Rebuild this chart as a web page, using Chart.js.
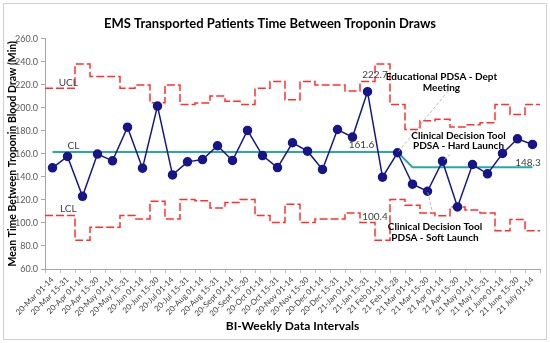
<!DOCTYPE html>
<html>
<head>
<meta charset="utf-8">
<script src="https://cdn.jsdelivr.net/npm/chart.js@4.4.0/dist/chart.umd.min.js"></script>
<style>
  html, body { margin: 0; padding: 0; background: #fff; }
  #wrap { width: 550px; height: 343px; position: relative; }
</style>
</head>
<body>
<div id="wrap"><canvas id="myChart"></canvas></div>
<script>
// bi-weekly intervals
const periods = ['20-Mar 01-14', '20-Mar 15-31', '20-Apr 01-14', '20-Apr 15-30', '20-May 01-14', '20-May 15-31',
  '20-Jun 01-14', '20-Jun 15-30', '20-Jul 01-14', '20-Jul 15-31', '20-Aug 01-14', '20-Aug 15-31',
  '20-Sept 01-14', '20-Sept 15-30', '20-Oct 01-14', '20-Oct 15-31', '20-Nov 01-14', '20-Nov 15-30',
  '20-Dec 01-14', '20-Dec 15-31', '21-Jan 01-14', '21-Jan 15-31', '21 Feb 01-14', '21 Feb 15-28',
  '21 Mar 01-14', '21 Mar 15-30', '21 Apr 01-14', '21 Apr 15-30', '21 May 01-14', '21 May 15-31',
  '21 June 01-14', '21 June 15-30', '21 July 01-14'];

const meanTime = [147.8, 157.7, 123.1, 159.8, 153.9, 183.1, 147.5, 201.4, 141.7, 153.0, 155.0, 167.0,
  154.2, 180.3, 158.5, 148.0, 169.6, 162.3, 146.4, 181.1, 174.5, 213.9, 139.7, 160.9,
  133.6, 127.5, 153.6, 113.9, 150.7, 142.6, 160.3, 173.0, 168.1];

const centerLine = [161.6, 161.6, 161.6, 161.6, 161.6, 161.6, 161.6, 161.6, 161.6, 161.6, 161.6, 161.6,
  161.6, 161.6, 161.6, 161.6, 161.6, 161.6, 161.6, 161.6, 161.6, 161.6, 161.6, 161.6,
  148.3, 148.3, 148.3, 148.3, 148.3, 148.3, 148.3, 148.3, 148.3];

const upperLimit = [216.9, 216.9, 237.9, 227.0, 227.0, 216.9, 219.7, 204.3, 219.7, 202.9, 204.0, 210.1,
  205.6, 202.9, 216.9, 222.7, 207.0, 222.7, 219.8, 219.8, 214.5, 222.7, 238.0, 202.9,
  181.1, 188.7, 190.0, 183.2, 185.2, 187.0, 202.9, 194.2, 202.9];

const lowerLimit = [106.4, 106.4, 84.9, 96.2, 96.2, 106.4, 103.5, 118.8, 103.5, 120.3, 119.2, 113.0,
  117.7, 120.3, 106.4, 100.4, 116.3, 100.4, 103.5, 103.5, 108.7, 100.4, 84.9, 120.3,
  115.3, 108.7, 106.3, 113.9, 111.2, 108.7, 93.3, 102.9, 93.3];

const yTickValues = [60, 80, 100, 120, 140, 160, 180, 200, 220, 240, 260];

// step line: one flat piece per interval, from edge to edge of its slot
function stepPoints(arr) {
  const pts = [];
  arr.forEach((v, i) => {
    pts.push({ x: i - 0.5, y: v });
    pts.push({ x: i + 0.5, y: v });
  });
  return pts;
}

// notes placed in data units (x = interval index, y = minutes)
const notes = [
  { lines: ['UCL'], at: [1.05, 221.7], bold: false },
  { lines: ['CL'], at: [1.4, 166.6], bold: false },
  { lines: ['LCL'], at: [1.05, 112.2], bold: false },
  { lines: ['222.7'], at: [21.5, 228.3], bold: false },
  { lines: ['161.6'], at: [20.6, 167.5], bold: false },
  { lines: ['148.3'], at: [31.7, 152.4], bold: false },
  { lines: ['100.4'], at: [21.5, 105.5], bold: false },
  { lines: ['Educational PDSA - Dept', 'Meeting'], at: [25.93, 226.6], bold: true, from: [26.37, 214.4], to: 23 },
  { lines: ['Clinical Decision Tool', 'PDSA - Hard Launch'], at: [27.07, 175.9], bold: true, from: [26.5, 159.4], to: 26 },
  { lines: ['Clinical Decision Tool', 'PDSA - Soft Launch'], at: [25.5, 96.5], bold: true, from: [25.37, 107.2], to: 25 }
];

Chart.defaults.font.family = 'Lato, "Open Sans", sans-serif';

const frame = {
  id: 'frame',
  beforeDraw(chart) {
    const c = chart.ctx;
    c.save();
    c.fillStyle = '#fff';
    c.fillRect(0, 0, chart.width, chart.height);
    c.strokeStyle = '#d0d0d0';
    c.lineWidth = 1;
    c.strokeRect(3.5, 3.5, chart.width - 7, chart.height - 7);
    c.restore();
  }
};

const notePlugin = {
  id: 'notes',
  afterDatasetsDraw(chart) {
    const c = chart.ctx;
    const xs = chart.scales.x2, ys = chart.scales.y;
    c.save();
    notes.forEach(n => {
      if (n.from !== undefined) {
        c.strokeStyle = '#a6a6a6';
        c.lineWidth = 0.8;
        c.setLineDash([3, 2]);
        c.beginPath();
        c.moveTo(xs.getPixelForValue(n.from[0]), ys.getPixelForValue(n.from[1]));
        c.lineTo(xs.getPixelForValue(n.to), ys.getPixelForValue(meanTime[n.to]));
        c.stroke();
        c.setLineDash([]);
      }
      const px = xs.getPixelForValue(n.at[0]);
      const py = ys.getPixelForValue(n.at[1]);
      c.font = (n.bold ? 'bold ' : '') + '10px Lato, "Open Sans", sans-serif';
      c.fillStyle = n.bold ? '#000' : '#404040';
      c.textAlign = 'center';
      c.textBaseline = 'middle';
      n.lines.forEach((t, k) => c.fillText(t, px, py + k * 10.7));
    });
    c.restore();
  }
};

const ctx = document.getElementById('myChart');
const myChart = new Chart(ctx, {
  type: 'line',
  data: {
    labels: periods,
    datasets: [
      {
        label: 'Mean time',
        data: meanTime,
        borderColor: '#16168a',
        backgroundColor: '#16168a',
        borderWidth: 1.5,
        pointRadius: 4,
        pointBackgroundColor: '#16168a',
        pointBorderColor: '#16168a',
        tension: 0
      },
      {
        label: 'CL',
        data: centerLine,
        borderColor: '#2aa8a6',
        borderWidth: 2,
        pointRadius: 0,
        tension: 0
      },
      {
        label: 'UCL',
        data: stepPoints(upperLimit),
        xAxisID: 'x2',
        borderColor: '#ff3030',
        borderWidth: 1.5,
        borderDash: [8, 3],
        pointRadius: 0
      },
      {
        label: 'LCL',
        data: stepPoints(lowerLimit),
        xAxisID: 'x2',
        borderColor: '#ff3030',
        borderWidth: 1.5,
        borderDash: [8, 3],
        pointRadius: 0
      }
    ]
  },
  options: {
    responsive: true,
    maintainAspectRatio: false,
    animation: false,
    layout: { padding: { left: 0, right: 10, top: 0, bottom: 0 } },
    plugins: {
      legend: { display: false },
      tooltip: { enabled: false },
      title: {
        display: true,
        text: 'EMS Transported Patients Time Between Troponin Draws',
        color: '#000',
        font: { size: 13, weight: 'bold' },
        padding: { top: 16, bottom: 7 }
      }
    },
    scales: {
      x: {
        type: 'category',
        offset: true,
        grid: { offset: true, drawOnChartArea: false, tickLength: 4, color: '#bfbfbf' },
        border: { color: '#a6a6a6' },
        ticks: { autoSkip: false, maxRotation: 45, minRotation: 45, color: '#404040', font: { size: 8 }, padding: 2 },
        title: {
          display: true,
          text: 'BI-Weekly Data Intervals',
          color: '#000',
          font: { size: 12, weight: 'bold' },
          padding: { top: 0, bottom: 10 }
        },
        afterFit: s => { s.height = 74; }
      },
      x2: { type: 'linear', display: false, min: -0.5, max: 32.5 },
      y: {
        min: 60,
        max: 260,
        afterBuildTicks: s => { s.ticks = yTickValues.map(v => ({ value: v })); },
        ticks: { callback: v => v.toFixed(1), color: '#595959', font: { size: 9 }, padding: 3 },
        grid: { drawOnChartArea: false, tickLength: 4, color: '#a6a6a6' },
        border: { color: '#a6a6a6' },
        title: {
          display: true,
          text: 'Mean Time Between Troponin Blood Draw (Min)',
          color: '#000',
          font: { size: 10.5, weight: 'bold' },
          padding: { top: 6, bottom: 0 }
        },
        afterFit: s => { s.width = 45; }
      }
    }
  },
  plugins: [frame, notePlugin]
});
</script>
</body>
</html>
